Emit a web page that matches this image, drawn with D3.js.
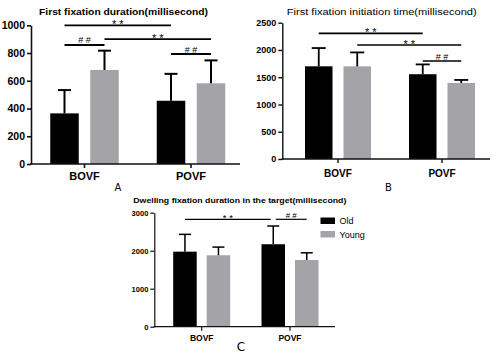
<!DOCTYPE html>
<html><head><meta charset="utf-8">
<script src="https://cdn.jsdelivr.net/npm/d3@7"></script>
<style>
body{margin:0;background:#fff}
svg{display:block}
text{font-family:"Liberation Sans",Arial,Helvetica,sans-serif;fill:#000}
</style>
</head><body>
<svg id="chart" width="500" height="359"></svg>
<script>
// ---------- DATA ----------
const categories = ["BOVF", "POVF"];
const series = ["Old", "Young"];
const seriesColors = ["#000000", "#a4a4a8"];

// Panel A: First fixation duration
const titleA = "First fixation duration(millisecond)";
const ticksA = [0, 200, 400, 600, 800, 1000];
const meanA_Old = [365, 456];
const meanA_Young = [678, 582];
const sdA_Old = [168, 194];
const sdA_Young = [139, 165];
const sigA = [
  {label: "**", from: ["BOVF", "Old"], to: ["POVF", "Old"], level: 1000},
  {label: "##", from: ["BOVF", "Old"], to: ["BOVF", "Young"], level: 858},
  {label: "**", from: ["BOVF", "Young"], to: ["POVF", "Young"], level: 901},
  {label: "##", from: ["POVF", "Old"], to: ["POVF", "Young"], level: 793}
];

// Panel B: First fixation initiation time
const titleB = "First fixation initiation time(millisecond)";
const ticksB = [0, 500, 1000, 1500, 2000, 2500];
const meanB_Old = [1700, 1555];
const meanB_Young = [1700, 1395];
const sdB_Old = [335, 180];
const sdB_Young = [255, 55];
const sigB = [
  {label: "**", from: ["BOVF", "Old"], to: ["POVF", "Old"], level: 2305},
  {label: "**", from: ["BOVF", "Young"], to: ["POVF", "Young"], level: 2090},
  {label: "##", from: ["POVF", "Old"], to: ["POVF", "Young"], level: 1797}
];

// Panel C: Dwelling fixation duration in the target
const titleC = "Dwelling fixation duration in the target(millisecond)";
const ticksC = [0, 1000, 2000, 3000];
const meanC_Old = [1975, 2170];
const meanC_Young = [1880, 1755];
const sdC_Old = [455, 480];
const sdC_Young = [215, 190];
const sigC = [
  {label: "**", from: ["BOVF", "Old"], to: ["POVF", "Old"], level: 2826},
  {label: "##", from: ["POVF", "Old"], to: ["POVF", "Young"], level: 2826}
];

const panelLetters = ["A", "B", "C"];

// ---------- DRAWING ----------
const svg = d3.select("#chart");

function rows(meanOld, meanYoung, sdOld, sdYoung) {
  const out = [];
  categories.forEach((c, i) => {
    out.push({cat: c, ser: "Old", mean: meanOld[i], sd: sdOld[i]});
    out.push({cat: c, ser: "Young", mean: meanYoung[i], sd: sdYoung[i]});
  });
  return out;
}

function drawPanel(cfg, data, ticks, title, sigs) {
  const g = svg.append("g");
  const y = d3.scaleLinear().domain([0, ticks[ticks.length - 1]]).range([cfg.y0, cfg.yTop]);
  const x0 = d3.scaleBand().domain(categories).range([cfg.bandL, cfg.bandR]).padding(0);
  const x1 = d3.scaleBand().domain(series).range([-cfg.groupW / 2, cfg.groupW / 2]).paddingInner(cfg.innerPad).paddingOuter(0);
  const color = d3.scaleOrdinal().domain(series).range(seriesColors);
  const cx = (c, s) => x0(c) + x0.bandwidth() / 2 + x1(s) + x1.bandwidth() / 2;

  // bars
  g.selectAll("rect.bar").data(data).enter().append("rect")
    .attr("class", "bar")
    .attr("x", d => x0(d.cat) + x0.bandwidth() / 2 + x1(d.ser))
    .attr("width", x1.bandwidth())
    .attr("y", d => y(d.mean))
    .attr("height", d => y(0) - y(d.mean))
    .attr("fill", d => color(d.ser));

  // error bars (upper only)
  const eb = g.selectAll("g.err").data(data).enter().append("g").attr("class", "err");
  eb.append("line")
    .attr("x1", d => cx(d.cat, d.ser)).attr("x2", d => cx(d.cat, d.ser))
    .attr("y1", d => y(d.mean)).attr("y2", d => y(d.mean + d.sd))
    .attr("stroke", "#000").attr("stroke-width", cfg.errW);
  eb.append("line")
    .attr("x1", d => cx(d.cat, d.ser) - cfg.cap).attr("x2", d => cx(d.cat, d.ser) + cfg.cap)
    .attr("y1", d => y(d.mean + d.sd)).attr("y2", d => y(d.mean + d.sd))
    .attr("stroke", "#000").attr("stroke-width", cfg.errW);

  // y axis
  const ya = g.append("g").attr("transform", `translate(${cfg.axisX},0)`)
    .call(d3.axisLeft(y).tickValues(ticks).tickFormat(d3.format("d"))
      .tickSize(4).tickSizeOuter(0).tickPadding(2));
  ya.attr("font-size", null).attr("font-family", null);
  ya.select(".domain").attr("stroke", "#111").attr("stroke-width", cfg.axisW);
  ya.selectAll(".tick line").attr("stroke", "#111").attr("stroke-width", cfg.axisW);
  ya.selectAll(".tick text").style("font-size", cfg.tickFont + "px").style("font-weight", "bold")
    .attr("fill", "#000");

  // x axis
  const xa = g.append("g").attr("transform", `translate(0,${cfg.y0})`)
    .call(d3.axisBottom(x0).tickSize(4).tickSizeOuter(0).tickPadding(0));
  xa.attr("font-size", null).attr("font-family", null);
  xa.select(".domain").remove();
  xa.selectAll(".tick line").attr("stroke", "#111").attr("stroke-width", cfg.axisW);
  xa.selectAll(".tick text").style("font-size", cfg.catFont + "px").style("font-weight", "bold")
    .attr("fill", "#000").attr("y", cfg.catBase).attr("dy", 0);
  g.append("line").attr("x1", cfg.axisX - cfg.axisW / 2).attr("x2", cfg.axisEnd)
    .attr("y1", cfg.y0).attr("y2", cfg.y0).attr("stroke", "#111").attr("stroke-width", cfg.axisW);

  // title
  g.append("text").text(title)
    .attr("x", cfg.titleX).attr("y", cfg.titleY)
    .style("font-size", cfg.titleFont + "px").style("font-weight", cfg.titleWeight)
    .attr("textLength", cfg.titleLen).attr("lengthAdjust", "spacingAndGlyphs");

  // significance markers
  sigs.forEach(s => {
    let xa1 = cx(s.from[0], s.from[1]);
    let xa2 = cx(s.to[0], s.to[1]);
    // shorten lines that meet another one at the same level
    sigs.forEach(o => {
      if (o === s || o.level !== s.level) return;
      const ox1 = cx(o.from[0], o.from[1]);
      if (Math.abs(ox1 - xa2) < 1) xa2 -= cfg.sigGap;
      const ox2 = cx(o.to[0], o.to[1]);
      if (Math.abs(ox2 - xa1) < 1) xa1 += cfg.sigGap;
    });
    const ly = y(s.level);
    g.append("line").attr("x1", xa1).attr("x2", xa2).attr("y1", ly).attr("y2", ly)
      .attr("stroke", "#000").attr("stroke-width", cfg.sigW);
    const isStar = s.label === "**";
    g.append("text").text(s.label.split("").join(" "))
      .attr("x", (xa1 + xa2) / 2)
      .attr("y", ly - (isStar ? cfg.starOff : cfg.hashOff))
      .attr("text-anchor", "middle")
      .style("font-size", (isStar ? cfg.starFont : cfg.hashFont) + "px")
      .attr("fill", "#111");
  });
  return g;
}

const cfgA = {axisX: 31, yTop: 25.3, y0: 164, bandL: 31.25, bandR: 244.25, axisEnd: 240,
  groupW: 68.5, innerPad: 0.2875, errW: 2, cap: 6.5, axisW: 1.6, tickFont: 10.5, catFont: 11, catBase: 16,
  titleX: 39, titleY: 15, titleFont: 8.5, titleWeight: "bold", titleLen: 169,
  sigW: 1.8, sigGap: 0, starOff: -2.5, hashOff: 1.5, starFont: 11, hashFont: 9};
const cfgB = {axisX: 282.3, yTop: 22.7, y0: 159, bandL: 286, bandR: 494, axisEnd: 490,
  groupW: 66, innerPad: 0.2857, errW: 1.8, cap: 7, axisW: 1.4, tickFont: 9, catFont: 10, catBase: 17.5,
  titleX: 286.7, titleY: 15, titleFont: 8.5, titleWeight: "normal", titleLen: 190,
  sigW: 1.6, sigGap: 0, starOff: -2.5, hashOff: 1.5, starFont: 11, hashFont: 9};
const cfgC = {axisX: 154.3, yTop: 212.7, y0: 326.7, bandL: 157.55, bandR: 334.15, axisEnd: 335,
  groupW: 57, innerPad: 0.2985, errW: 1.5, cap: 6, axisW: 1.2, tickFont: 7.5, catFont: 8.5, catBase: 14,
  titleX: 133.3, titleY: 202.7, titleFont: 7, titleWeight: "bold", titleLen: 213,
  sigW: 1.2, sigGap: 2.5, starOff: -2, hashOff: 1.2, starFont: 9.5, hashFont: 8};

drawPanel(cfgA, rows(meanA_Old, meanA_Young, sdA_Old, sdA_Young), ticksA, titleA, sigA);
drawPanel(cfgB, rows(meanB_Old, meanB_Young, sdB_Old, sdB_Young), ticksB, titleB, sigB);
drawPanel(cfgC, rows(meanC_Old, meanC_Young, sdC_Old, sdC_Young), ticksC, titleC, sigC);

// legend (panel C)
const legend = svg.append("g").attr("transform", "translate(320.5,217.5)");
series.forEach((s, i) => {
  legend.append("rect").attr("x", 0).attr("y", i * 13.5).attr("width", 14.5).attr("height", 6.5)
    .attr("fill", seriesColors[i]);
  legend.append("text").text(s).attr("x", 19).attr("y", i * 13.5 + 6.5)
    .style("font-size", "9px");
});

// panel letters
const letterPos = [[118, 190.5, 10], [388.5, 190.5, 10], [241, 351, 12]];
panelLetters.forEach((t, i) => {
  svg.append("text").text(t).attr("x", letterPos[i][0]).attr("y", letterPos[i][1])
    .attr("text-anchor", "middle").style("font-size", letterPos[i][2] + "px")
    .style("font-family", "DejaVu Sans, sans-serif").attr("fill", "#333");
});
</script>
</body></html>
